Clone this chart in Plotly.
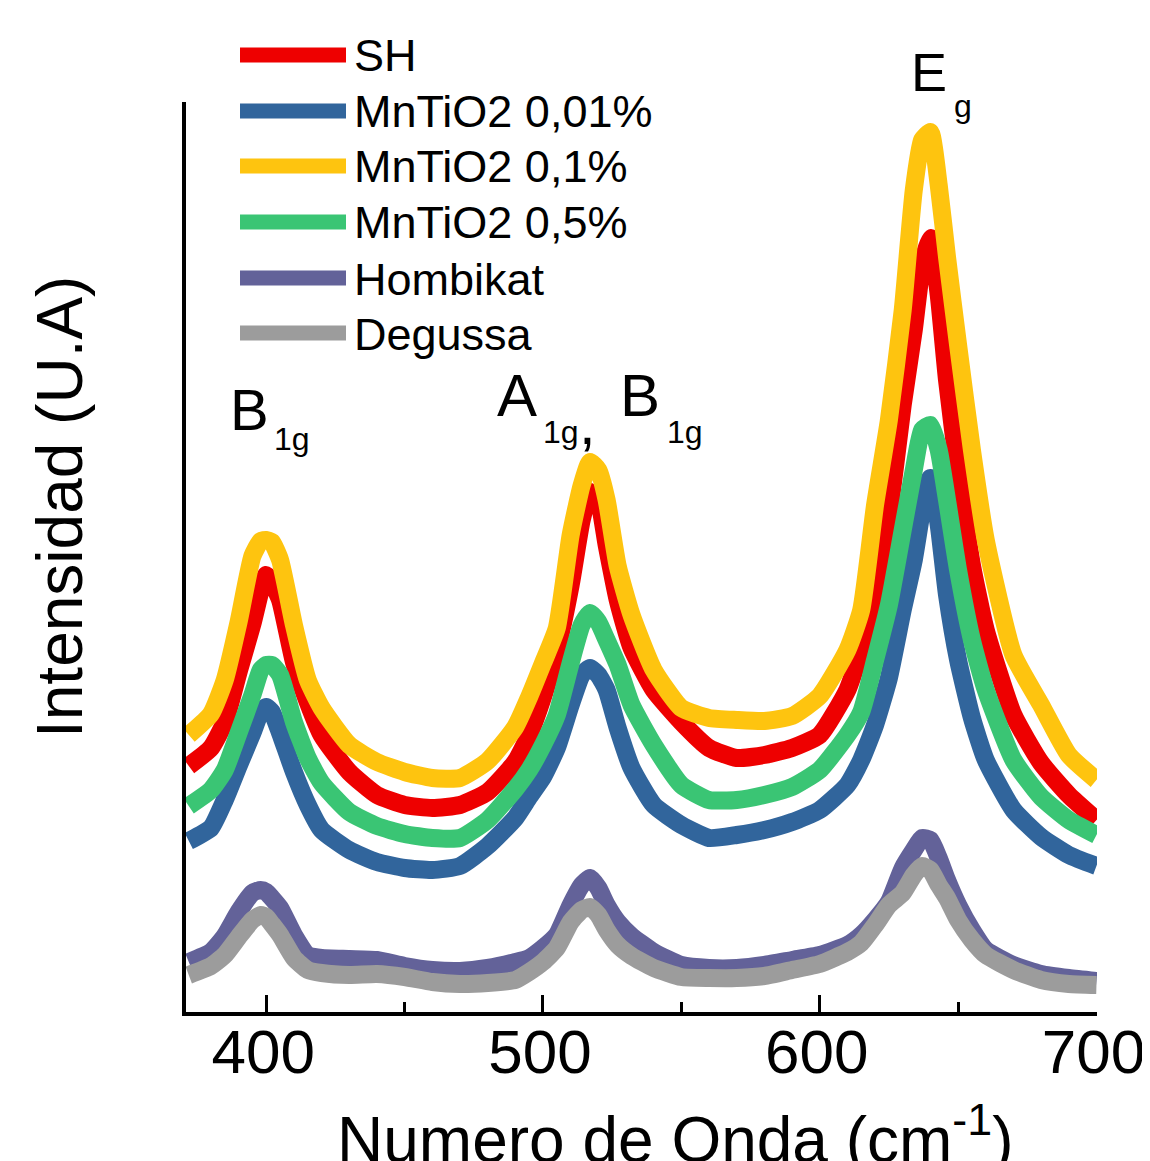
import plotly.graph_objects as go

# ---------------- data ----------------
wavenumber = [372, 380, 385, 390, 395, 398, 400, 402, 405, 410, 415, 420, 430, 440, 450,
              460, 470, 480, 490, 495, 500, 505, 510, 514, 517, 520, 523, 527, 532, 540,
              550, 560, 570, 580, 590, 600, 610, 615, 620, 625, 630, 634, 637, 640, 643,
              646, 650, 655, 660, 670, 680, 690, 700]

sh = [246, 264, 290, 340, 388, 422, 437, 430, 412, 350, 310, 277, 240, 217, 207,
      204, 207, 220, 250, 277, 315, 362, 427, 492, 520, 512, 467, 412, 364, 322,
      290, 264, 254, 257, 264, 277, 322, 362, 407, 497, 607, 682, 747, 774, 717,
      632, 542, 447, 382, 297, 249, 217, 192]

mn001 = [171, 184, 212, 246, 279, 300, 305, 300, 279, 240, 207, 182, 162, 150, 144,
         142, 146, 166, 194, 215, 235, 264, 307, 337, 344, 337, 322, 284, 244, 207,
         187, 174, 177, 182, 190, 202, 227, 252, 287, 334, 402, 452, 502, 534, 487,
         417, 352, 294, 252, 202, 175, 157, 146]

mn01 = [277, 298, 332, 390, 456, 471, 472, 470, 452, 387, 332, 304, 267, 250, 240,
        234, 234, 251, 285, 315, 349, 384, 477, 527, 550, 542, 512, 446, 397, 342,
        304, 294, 292, 291, 296, 316, 362, 402, 507, 592, 702, 822, 872, 880, 827,
        755, 667, 562, 472, 357, 307, 257, 232]

mn05 = [206, 222, 242, 279, 317, 342, 347, 347, 337, 290, 254, 229, 200, 186, 178,
        174, 174, 192, 223, 242, 267, 297, 349, 387, 399, 390, 372, 347, 307, 267,
        227, 212, 212, 217, 225, 242, 277, 300, 352, 407, 482, 542, 582, 587, 562,
        512, 442, 372, 322, 252, 215, 192, 177]

hombikat = [50, 60, 76, 100, 119, 122, 120, 114, 104, 77, 57, 54, 53, 52, 46,
            42, 41, 44, 50, 54, 64, 77, 107, 127, 134, 124, 107, 90, 76, 60,
            47, 44, 44, 47, 52, 57, 67, 77, 92, 110, 144, 162, 174, 172, 154,
            132, 107, 82, 62, 47, 38, 34, 31]

degussa = [37, 46, 57, 75, 92, 97, 95, 88, 77, 54, 42, 39, 37, 38, 35,
           30, 28, 29, 32, 40, 50, 64, 90, 102, 105, 97, 82, 67, 56, 44,
           35, 34, 34, 36, 42, 48, 60, 69, 87, 107, 119, 137, 146, 142, 127,
           114, 92, 72, 57, 42, 32, 28, 27]

series_names = ["SH", "MnTiO2 0,01%", "MnTiO2 0,1%", "MnTiO2 0,5%", "Hombikat", "Degussa"]
series_values = [sh, mn001, mn01, mn05, hombikat, degussa]
series_colors = ["#EE0000", "#31659C", "#FEC40F", "#3AC574", "#636299", "#9C9C9C"]

x_ticks = [400, 500, 600, 700]
x_minor_ticks = [450, 550, 650]

# ---------------- layout helpers ----------------
FONT = "Liberation Sans, Arial, sans-serif"
OFF = 8                            # page body margin
L, R, T, B = 186, 1097, 102, 1012  # plot area in page pixels
W_FIG, H_FIG = 1150 - OFF, 1161 - OFF


def fx(px):
    return (px - L) / (R - L)


def fy(py):
    return (B - py) / (B - T)


fig = go.Figure()
for name, vals, col in zip(series_names, series_values, series_colors):
    fig.add_trace(go.Scatter(
        x=wavenumber, y=vals, name=name, mode="lines",
        line=dict(color=col, width=18, shape="spline", smoothing=0.5),
        showlegend=False,
    ))

shapes = []
annotations = []

# legend (drawn as samples + labels)
legend_rows = [55, 111, 166, 222, 278, 333]
for name, col, ry in zip(series_names, series_colors, legend_rows):
    shapes.append(dict(type="line", xref="paper", yref="paper",
                       x0=fx(240), x1=fx(346), y0=fy(ry), y1=fy(ry),
                       line=dict(color=col, width=15)))
    annotations.append(dict(text=name, xref="paper", yref="paper",
                            x=fx(352), y=fy(ry + 1), xanchor="left", yanchor="middle",
                            showarrow=False, font=dict(family=FONT, size=45, color="black")))


def lab(text, px, py, size):
    annotations.append(dict(text=text, xref="paper", yref="paper", x=fx(px), y=fy(py),
                            xanchor="center", yanchor="middle", showarrow=False,
                            font=dict(family=FONT, size=size, color="black")))


lab("B", 249, 409, 58)
lab("1g", 292, 439, 32)
lab("A", 517, 396, 60)
lab("1g", 561, 432, 32)
lab(",", 587, 424, 60)
lab("B", 640, 396, 60)
lab("1g", 685, 432, 32)
lab("E", 929, 72, 54)
lab("g", 963, 106, 32)

# axis titles
annotations.append(dict(text="Numero de Onda (cm<sup>-1</sup>)", xref="paper", yref="paper",
                        x=fx(675), y=fy(1135), xanchor="center", yanchor="middle",
                        showarrow=False, font=dict(family=FONT, size=64, color="black")))
annotations.append(dict(text="Intensidad (U.A)", xref="paper", yref="paper",
                        x=fx(60), y=fy(507), xanchor="center", yanchor="middle",
                        textangle=-90, showarrow=False,
                        font=dict(family=FONT, size=64, color="black")))

fig.update_layout(
    width=W_FIG, height=H_FIG,
    margin=dict(l=L - OFF, r=W_FIG - (R - OFF), t=T - OFF, b=H_FIG - (B - OFF), pad=0,
                autoexpand=False),
    paper_bgcolor="white", plot_bgcolor="white",
    showlegend=False,
    shapes=shapes, annotations=annotations,
    font=dict(family=FONT, color="black"),
)
fig.update_xaxes(
    range=[371, 700.2], tickvals=x_ticks, ticktext=[str(v) for v in x_ticks],
    ticks="inside", ticklen=17, tickwidth=3, tickcolor="black",
    minor=dict(ticks="inside", ticklen=10, tickwidth=3, tickcolor="black",
               tickvals=x_minor_ticks),
    showline=True, linewidth=4, linecolor="black", mirror=False,
    showgrid=False, zeroline=False, ticklabelstandoff=-17, ticklabelshift=-3,
    automargin=False,
    tickfont=dict(family=FONT, size=62, color="black"),
)
fig.update_yaxes(
    range=[0, 910], showticklabels=False, ticks="",
    showline=True, linewidth=4, linecolor="black",
    showgrid=False, zeroline=False, automargin=False,
)

fig.write_html("out.html")
